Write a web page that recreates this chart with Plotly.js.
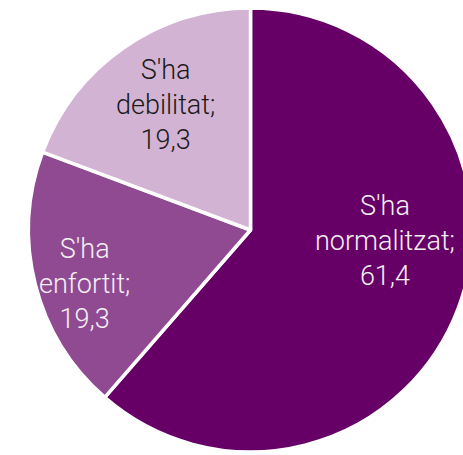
<!DOCTYPE html>
<html><head><meta charset="utf-8">
<script src="https://cdn.plot.ly/plotly-3.0.1.min.js"></script>
<style>html,body{margin:0;padding:0;overflow:hidden;background:#fff;width:463px;height:455px}#c{width:501px;height:460px}</style>
</head><body><div id="c"></div>
<script>
var categories = ["S'ha normalitzat", "S'ha enfortit", "S'ha debilitat"];
var values = [61.4, 19.3, 19.3];

// style (not data)
var colors = ["#660066", "#8F4A92", "#D3B3D3"];
var textColors = ["#f4f0f4", "#f4f0f4", "#1a1a1a"];
var labelPx = [[385, 241], [84, 284], [165, 105]]; // label centres in pixels
var W = 501, H = 460;

var texts = categories.map(function(c, i){
  var p = c.split(" ");
  return p[0] + "<br>" + p.slice(1).join(" ") + ";<br>" + values[i].toFixed(1).replace(".", ",");
});
var annotations = texts.map(function(t, i){
  return {
    text: t, showarrow: false, xref: "paper", yref: "paper",
    x: labelPx[i][0] / W, y: 1 - labelPx[i][1] / H,
    xanchor: "center", yanchor: "middle", align: "center",
    font: {family: "Roboto", size: 27, color: textColors[i], weight: 300}
  };
});
Plotly.newPlot("c", [{
  type: "pie",
  labels: categories,
  values: values,
  textinfo: "none",
  hoverinfo: "none",
  sort: false,
  direction: "clockwise",
  rotation: 0,
  marker: {colors: colors, line: {color: "#ffffff", width: 3.5}},
  domain: {x: [0, 1], y: [8/460, 452/460]}
}], {
  width: W, height: H,
  margin: {l: 0, r: 0, t: 0, b: 0},
  showlegend: false,
  paper_bgcolor: "#ffffff",
  annotations: annotations
}, {staticPlot: true});
</script></body></html>
